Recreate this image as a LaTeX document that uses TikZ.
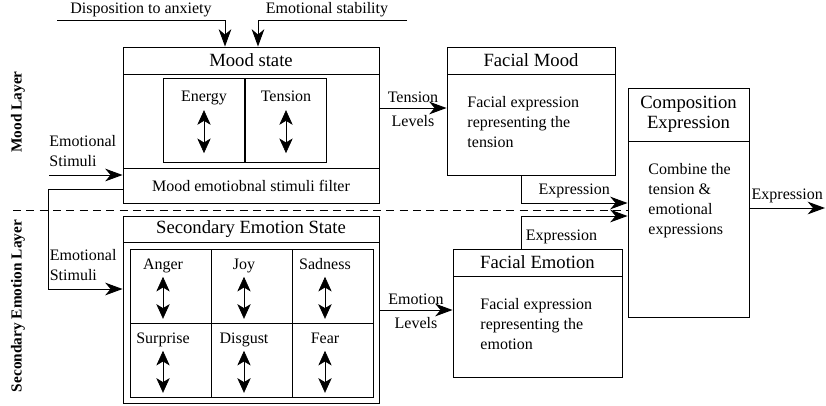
\documentclass[tikz,border=0pt]{standalone}
\usepackage{fontspec}
\setmainfont{Liberation Serif}
\usetikzlibrary{arrows.meta, positioning, fit}

\begin{document}
\begin{tikzpicture}
        [
        x=0.75pt, y=-0.75pt,
        line width=0.7pt,
        every node/.style={font=\fontsize{12}{15}\selectfont},
        box/.style={draw, rectangle, inner sep=0pt},
        head/.style={font=\fontsize{14}{15}\selectfont, align=center},
        body/.style={anchor=north west, align=left, inner sep=0pt},
        cellab/.style={text height=8.5pt, text depth=2.5pt, inner sep=2pt},
        layer/.style={rotate=90, font=\bfseries\fontsize{11.5}{13}\selectfont},
        flow/.style={-{Stealth[length=13pt, width=9.5pt, inset=4pt]}},
        level/.style={{Stealth[length=11pt, width=10pt, inset=3pt]}-{Stealth[length=11pt, width=10pt, inset=3pt]}, line width=0.5pt},
        split/.style={dashed, dash pattern=on 6pt off 4pt}
        ]

        \useasboundingbox (0,0) rectangle (826,405);

        % Layers
        \node[layer] (moodlayer) at (18,112) {Mood Layer};
        \node[layer] (seclayer) at (18,306) {Secondary Emotion Layer};
        \coordinate (split) at (13,210);
        \draw[split] (split) -- (split -| 628,0);

        % Mood state
        \node[box, fit={(123,47) (379,203)}] (mood) {};
        \node[box, fit={(123,47) (379,74)}] (moodhead) {};
        \node[head] (moodtitle) at (moodhead) {Mood state};
        \node[box, fit={(123,168) (379,203)}] (filter) {};
        \node (filtertext) at (filter) {Mood emotiobnal stimuli filter};
        \foreach \x/\name [count=\i] in {163/Energy, 245/Tension} {
            \node[box, fit={(\x,78) (\x+81,162)}] (mcell\i) {};
            \node[cellab] (mlab\i) at (\x+41,97) {\name};
            \draw[level] ([yshift=-2pt]mlab\i.south) -- ++(0,43);
        }

        % Secondary emotion state
        \node[box, fit={(123,216) (379,403)}] (sec) {};
        \node[box, fit={(123,216) (379,242)}] (sechead) {};
        \node[head] (sectitle) at (sechead) {Secondary Emotion State};
        \foreach \x/\y/\name [count=\i] in {130/249/Anger, 211/249/Joy, 292/249/Sadness,
                                            130/323/Surprise, 211/323/Disgust, 292/323/Fear} {
            \node[box, fit={(\x,\y) (\x+81,\y+74)}] (scell\i) {};
            \node[cellab] (slab\i) at (\x+33,\y+16) {\name};
            \draw[level] ([yshift=-1pt]slab\i.south) -- ++(0,42);
        }

        % Facial boxes
        \node[box, fit={(447,47) (615,175)}] (fmood) {};
        \node[box, fit={(447,47) (615,74)}] (fmoodhead) {};
        \node[head] (fmoodtitle) at (fmoodhead) {Facial Mood};
        \node[body] (fmoodtext) at (467,96) {Facial expression\\representing the\\tension};

        \node[box, fit={(453,249) (622,377)}] (femo) {};
        \node[box, fit={(453,249) (622,276)}] (femohead) {};
        \node[head] (femotitle) at (femohead) {Facial Emotion};
        \node[body] (femotext) at (480,298) {Facial expression\\representing the\\emotion};

        \node[box, fit={(628,88) (749,317)}] (comp) {};
        \node[box, fit={(628,88) (749,141)}] (comphead) {};
        \node[head] (comptitle) at (comphead) {Composition\\Expression};
        \node[body] (comptext) at (648,163) {Combine the\\tension \&\\emotional\\expressions};

        % Inputs
        \node (disp) at (141,10) {Disposition to anxiety};
        \node (stab) at (327,10) {Emotional stability};
        \coordinate (dispin) at (57,20);
        \coordinate (dispbend) at (225,20);
        \coordinate (stabin) at (407,20);
        \coordinate (stabbend) at (258,20);
        \draw[flow] (dispin) -- (dispbend) -- (dispbend |- mood.north);
        \draw[flow] (stabin) -- (stabbend) -- (stabbend |- mood.north);

        \coordinate (stim1) at (49,175);
        \node[anchor=south west, align=left, inner sep=0pt] (stimtext1) at ([yshift=6pt]stim1) {Emotional\\Stimuli};
        \draw[flow] (stim1) -- (stim1 -| mood.west);
        \coordinate (loop) at (48,189);
        \coordinate (stim2) at (48,289);
        \node[anchor=south west, align=left, inner sep=0pt] (stimtext2) at ([xshift=1pt, yshift=6pt]stim2) {Emotional\\Stimuli};
        \draw[flow] (loop -| mood.west) -- (loop) -- (stim2) -- (stim2 -| sec.west);

        % Edges
        \coordinate (tlev) at (412,108);
        \draw[flow] (mood.east |- tlev) -- node[above] (tenlab) {Tension} node[below=2pt] (tenlev) {Levels} (fmood.west |- tlev);
        \coordinate (elev) at (416,310);
        \draw[flow] (sec.east |- elev) -- node[above] (emolab) {Emotion} node[below=2pt] (emolev) {Levels} (femo.west |- elev);

        \coordinate (fmexp) at (521,203);
        \draw[flow] (fmexp |- fmood.south) -- (fmexp) -- node[above] (fmexplab) {Expression} (fmexp -| comp.west);
        \coordinate (feexp) at (521,216);
        \draw[flow] (feexp |- femo.north) node[anchor=south west] (feexplab) {Expression} -- (feexp) -- (feexp -| comp.west);

        \coordinate (out) at (825,208);
        \draw[flow] (comp.east |- out) -- node[above] (outlab) {Expression} (out);

    \end{tikzpicture}
\end{document}
